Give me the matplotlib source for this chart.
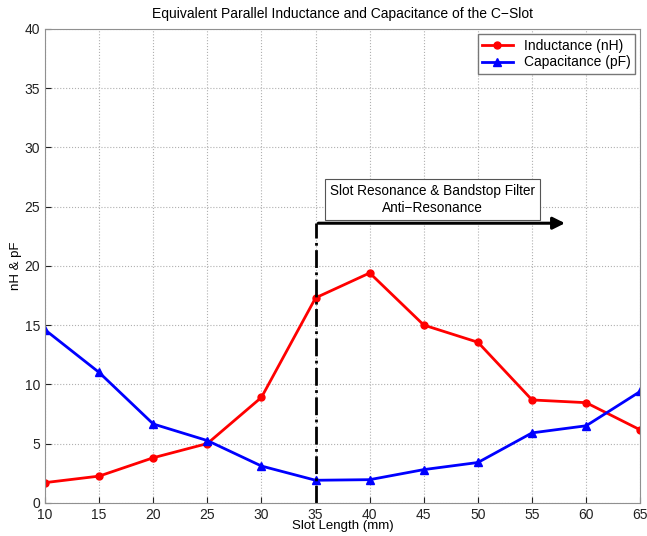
import numpy as np
import matplotlib.pyplot as plt

# Datos
slot_length = [10, 15, 20, 25, 30, 35, 40, 45, 50, 55, 60, 65]
inductance = [1.7, 2.25, 3.8, 5.0, 8.9, 17.3, 19.4, 15.0, 13.55, 8.68, 8.45, 6.15]
capacitance = [14.6, 11.0, 6.65, 5.25, 3.1, 1.9, 1.95, 2.8, 3.4, 5.9, 6.5, 9.4]
x_ticks = [10, 15, 20, 25, 30, 35, 40, 45, 50, 55, 60, 65]
y_ticks = [0, 5, 10, 15, 20, 25, 30, 35, 40]

plt.rcParams['font.family'] = ['Liberation Sans', 'DejaVu Sans']

fig = plt.figure(figsize=(6.47, 5.36), dpi=100)
ax = fig.add_axes([0.0696, 0.062, 0.92, 0.884])

ax.plot(slot_length, inductance, '-o', color='red', lw=2, ms=5, label='Inductance (nH)')
ax.plot(slot_length, capacitance, '-^', color='blue', lw=2, ms=6, label='Capacitance (pF)')

# Línea vertical y flecha de la región de resonancia
ax.plot([35, 35], [0, 23.6], color='black', lw=2, ls='-.')
ax.annotate('', xy=(58.3, 23.6), xytext=(35, 23.6),
            arrowprops=dict(arrowstyle='-|>', color='black', lw=2.2, mutation_scale=18))
ax.text(45.8, 25.6, 'Slot Resonance & Bandstop Filter\nAnti\u2212Resonance', ha='center', va='center',
        fontsize=9.8, linespacing=1.2,
        bbox=dict(boxstyle='square,pad=0.4', fc='white', ec='#555555', lw=0.8))

ax.set_xlim(10, 65)
ax.set_ylim(0, 40)
ax.set_xticks(x_ticks)
ax.set_yticks(y_ticks)
ax.tick_params(direction='in', labelsize=10, colors='#222222', length=4)
ax.grid(True, ls=':', color='#b0b0b0', lw=0.8)
for s in ax.spines.values():
    s.set_color('#909090')

ax.set_title('Equivalent Parallel Inductance and Capacitance of the C\u2212Slot', fontsize=10, pad=8)
ax.set_xlabel('Slot Length (mm)', fontsize=9.5, labelpad=-1)
ax.set_ylabel('nH & pF', fontsize=9.5, labelpad=2)

leg = ax.legend(loc='upper right', fontsize=10, fancybox=False, framealpha=1,
                edgecolor='#777777', borderpad=0.3, handlelength=2.2, labelspacing=0.2,
                borderaxespad=0.4)

plt.savefig('out.png', dpi=100)
